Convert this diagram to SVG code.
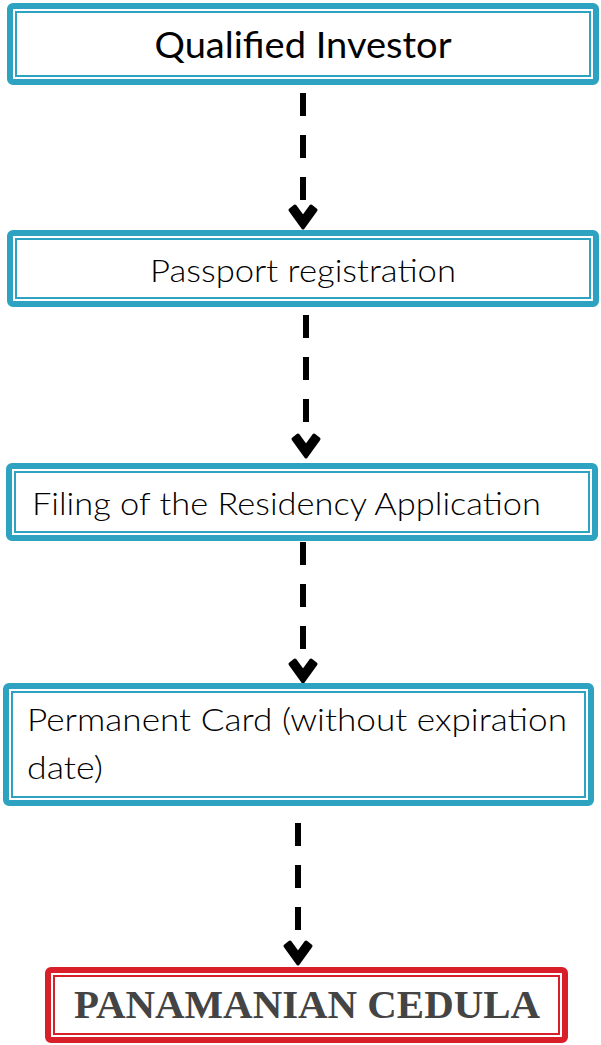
<svg xmlns="http://www.w3.org/2000/svg" width="601" height="1045" viewBox="0 0 601 1045">
<defs>
<style>
.ob{fill:#fff;stroke:#2EA3C1;stroke-width:6}
.ib{fill:none;stroke:#2EA3C1;stroke-width:2}
.obr{fill:#fff;stroke:#D9202A;stroke-width:6}
.ibr{fill:none;stroke:#D9202A;stroke-width:2}
.t{font-family:Lato,"Open Sans",sans-serif;font-weight:300;fill:#000}
.t.reg{font-weight:400}
.dash{stroke:#000;stroke-width:6;stroke-dasharray:23 19;fill:none}
.hd{fill:#000;stroke:#000;stroke-width:3;stroke-linejoin:round}
</style>
<polygon id="head" class="hd" points="-13,-19 -8,-23 0,-12 8,-23 13,-19 0,-1"/>
</defs>
<g id="connectors">
<line class="dash" x1="303" y1="93" x2="303" y2="203"/>
<use href="#head" x="303" y="229"/>
<line class="dash" x1="306" y1="315" x2="306" y2="428"/>
<use href="#head" x="306" y="458"/>
<line class="dash" x1="303" y1="542" x2="303" y2="656"/>
<use href="#head" x="303" y="683"/>
<line class="dash" x1="298" y1="823" x2="298" y2="935"/>
<use href="#head" x="298" y="965"/>
</g>
<g id="node1">
<rect class="ob" x="10" y="6" width="586" height="76" rx="3"/>
<rect class="ib" x="16" y="12" width="574" height="64"/>
<text class="t reg" x="303" y="58" font-size="36" text-anchor="middle" textLength="297" lengthAdjust="spacingAndGlyphs">Qualified Investor</text>
</g>
<g id="node2">
<rect class="ob" x="10" y="233" width="586" height="71" rx="3"/>
<rect class="ib" x="16" y="239" width="574" height="59"/>
<text class="t" x="303" y="282" font-size="31" text-anchor="middle" textLength="306" lengthAdjust="spacingAndGlyphs">Passport registration</text>
</g>
<g id="node3">
<rect class="ob" x="9" y="466" width="586" height="72" rx="3"/>
<rect class="ib" x="15" y="472" width="574" height="60"/>
<text class="t" x="32" y="515" font-size="31" textLength="509" lengthAdjust="spacingAndGlyphs">Filing of the Residency Application</text>
</g>
<g id="node4">
<rect class="ob" x="6" y="686" width="585" height="117" rx="3"/>
<rect class="ib" x="12" y="692" width="573" height="105"/>
<text class="t" x="27" y="731" font-size="31" textLength="540" lengthAdjust="spacingAndGlyphs">Permanent Card (without expiration</text>
<text class="t" x="27" y="779" font-size="31" textLength="76" lengthAdjust="spacingAndGlyphs">date)</text>
</g>
<g id="node5">
<rect class="obr" x="48" y="970" width="517" height="70" rx="3"/>
<rect class="ibr" x="54" y="976" width="505" height="58"/>
<text x="307" y="1018" font-family="'Liberation Serif',serif" font-weight="bold" font-size="40" fill="#444" text-anchor="middle" textLength="466" lengthAdjust="spacingAndGlyphs">PANAMANIAN CEDULA</text>
</g>
</svg>
